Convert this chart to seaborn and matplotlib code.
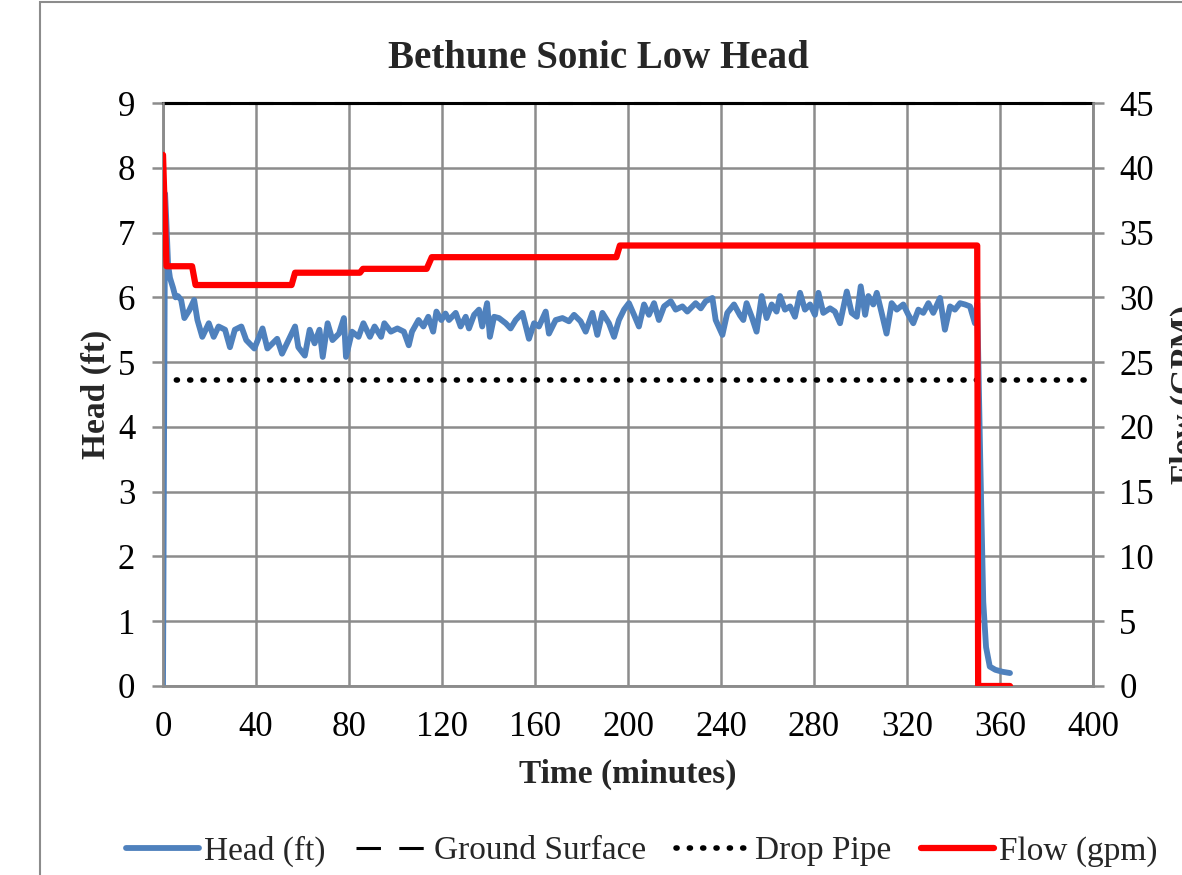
import seaborn as sns
import matplotlib.pyplot as plt
import matplotlib.patches as patches
import pandas as pd

# head readings (ft) vs time (minutes)
head_time = [0, 0.9, 1.4, 2.2, 3.0, 4.3, 5.4, 6.4, 7.8, 9.2, 11.3, 13.4, 14.8, 16.9, 19.7,
             21.8, 23.9, 26.7, 28.8, 30.9, 33.7, 35.8, 39.3, 42.8, 44.9, 49.1, 51.2, 54.0,
             56.8, 58.2, 61.0, 63.1, 65.2, 67.3, 68.7, 70.8, 72.9, 75.7, 77.8, 78.7, 81.3,
             84.1, 86.2, 89.0, 91.0, 93.8, 95.2, 98.0, 100.8, 103.6, 105.7, 107.1, 109.9,
             112.0, 114.1, 116.2, 117.6, 119.7, 121.5, 123.0, 125.9, 128.0, 130.2, 131.6,
             133.8, 135.9, 137.3, 139.4, 140.6, 142.4, 144.5, 147.4, 149.5, 151.7, 154.6,
             157.4, 159.6, 161.7, 164.6, 166.0, 168.9, 171.8, 174.6, 176.8, 179.6, 181.8,
             184.7, 186.8, 189.0, 191.8, 194.0, 196.1, 198.3, 200.4, 202.6, 204.7, 206.9,
             209.0, 211.2, 213.3, 215.5, 218.4, 220.5, 223.4, 225.5, 229.1, 231.3, 233.4,
             236.3, 237.7, 240.6, 242.7, 245.6, 248.2, 249.6, 251.0, 253.2, 255.3, 257.5,
             259.6, 261.8, 263.9, 265.4, 267.5, 269.7, 271.8, 274.0, 276.1, 278.3, 280.4,
             281.9, 284.0, 286.9, 289.0, 291.2, 294.1, 296.2, 298.4, 300.1, 302.0, 303.4,
             305.5, 307.0, 309.1, 311.2, 313.4, 315.6, 318.4, 320.6, 322.7, 324.9, 327.0,
             329.2, 331.3, 334.2, 336.3, 338.5, 340.6, 342.8, 344.9, 347.1, 349.2, 350.2,
             351.5, 352.8, 354.0, 355.6, 358.0, 361.0, 364.3]
head_ft = [0, 7.6, 7.2, 6.5, 6.3, 6.15, 6.0, 6.02, 5.96, 5.68, 5.8, 5.96, 5.65, 5.39, 5.6,
           5.39, 5.55, 5.5, 5.23, 5.5, 5.55, 5.34, 5.21, 5.52, 5.21, 5.36, 5.13, 5.34,
           5.55, 5.23, 5.1, 5.5, 5.29, 5.5, 5.08, 5.6, 5.34, 5.44, 5.68, 5.08, 5.47,
           5.39, 5.6, 5.39, 5.55, 5.39, 5.6, 5.47, 5.52, 5.47, 5.26, 5.47, 5.65,
           5.55, 5.7, 5.47, 5.78, 5.65, 5.75, 5.65, 5.76, 5.55, 5.7, 5.52,
           5.73, 5.81, 5.55, 5.91, 5.39, 5.7, 5.68, 5.6, 5.52, 5.65, 5.76,
           5.36, 5.6, 5.55, 5.78, 5.44, 5.65, 5.68, 5.63, 5.73, 5.63, 5.47,
           5.76, 5.42, 5.76, 5.6, 5.39, 5.65, 5.81, 5.91, 5.73, 5.55, 5.89,
           5.73, 5.91, 5.65, 5.86, 5.94, 5.81, 5.86, 5.78, 5.91, 5.83, 5.94,
           5.99, 5.65, 5.42, 5.76, 5.89, 5.72, 5.65, 5.91, 5.7, 5.47, 6.02,
           5.68, 5.89, 5.78, 6.02, 5.81, 5.86, 5.7, 6.07, 5.81, 5.89, 5.73,
           6.07, 5.76, 5.83, 5.78, 5.6, 6.09, 5.76, 5.7, 6.17, 5.73, 6.02,
           5.89, 6.07, 5.76, 5.44, 5.91, 5.81, 5.89, 5.73, 5.6, 5.81, 5.76,
           5.91, 5.76, 5.99, 5.5, 5.86, 5.81, 5.91, 5.89, 5.86, 5.6, 5.91,
           3.5, 1.3, 0.6, 0.3, 0.25, 0.22, 0.2]

# flow (gpm), stepped
flow_time = [0, 1.5, 12.5, 14.0, 55.3, 56.8, 84.7, 86.0, 113.4, 115.6, 195.0, 196.5,
             350.2, 350.6, 364.3]
flow_gpm = [41, 32.4, 32.4, 30.95, 30.95, 31.9, 31.9, 32.2, 32.2, 33.1, 33.1, 34.0,
            34.0, 0, 0]

ground_time = [0, 400]
ground_ft = [9, 9]
pipe_time = [0, 400]
pipe_ft = [4.72, 4.72]

sns.set_style("white")
plt.rcParams['font.family'] = ['Liberation Serif', 'DejaVu Serif']

fig = plt.figure(figsize=(11.82, 8.75), dpi=100)
ax = fig.add_axes([163 / 1182, 1 - 686 / 875, 930 / 1182, 583 / 875])
ax2 = ax.twinx()

grid_c = '#8c8c8c'
head_df = pd.DataFrame({'t': head_time, 'h': head_ft})
flow_df = pd.DataFrame({'t': flow_time, 'q': flow_gpm})

sns.lineplot(data=head_df, x='t', y='h', ax=ax, sort=False, color='#4F81BD', lw=4.2,
             label='Head (ft)', legend=False, zorder=4)
sns.lineplot(x=ground_time, y=ground_ft, ax=ax, color='black', lw=2.2,
             linestyle=(0, (8, 6)), label='Ground Surface', legend=False, zorder=5,
             clip_on=False)
sns.lineplot(x=pipe_time, y=pipe_ft, ax=ax, color='black', lw=4,
             linestyle=(0, (0.2, 2.2)), dash_capstyle='round',
             label='Drop Pipe', legend=False, zorder=3)
sns.lineplot(data=flow_df, x='t', y='q', ax=ax2, sort=False, color='#FF0000', lw=4.5,
             label='Flow (gpm)', legend=False, zorder=4)

ax.set_xlim(0, 400)
ax.set_ylim(0, 9)
ax2.set_ylim(0, 45)
ax.set_xticks(range(0, 401, 40))
ax.set_yticks(range(0, 10))
ax2.set_yticks(range(0, 46, 5))

ax.grid(True, color=grid_c, lw=1.8)
ax2.grid(False)
ax.set_axisbelow(True)
for a in (ax, ax2):
    for s in a.spines.values():
        s.set_color(grid_c)
        s.set_linewidth(1.8)
    a.tick_params(colors=grid_c, labelcolor='black', labelsize=25, length=8, width=1.8,
                  direction='out')
ax.spines['top'].set_color('black')
ax.spines['top'].set_linewidth(2.2)
ax2.spines['top'].set_visible(False)
ax.tick_params(axis='x', pad=10)
ax.tick_params(axis='y', pad=12)
ax2.tick_params(axis='y', pad=11)

ax.set_xlabel('Time (minutes)', fontsize=24, fontweight='bold')
ax.xaxis.set_label_coords(0.5, -(759 - 686) / 583)
ax.set_ylabel('Head (ft)', fontsize=24, fontweight='bold')
ax.yaxis.set_label_coords((112 - 163) / 930, 0.5)
ax2.set_ylabel('Flow (GPM)', fontsize=24, fontweight='bold')
ax2.yaxis.set_label_coords((1170 - 163) / 930, 0.5)

fig.text(598 / 1182, 1 - 58 / 875, 'Bethune Sonic Low Head', ha='center', va='center',
         fontsize=28, fontweight='bold')

h1, l1 = ax.get_legend_handles_labels()
h2, l2 = ax2.get_legend_handles_labels()
fig.legend(h1 + h2, l1 + l2, loc='center', bbox_to_anchor=(642 / 1182, 1 - 851 / 875),
           ncol=4, frameon=False, fontsize=24, handlelength=2.2, columnspacing=0.9,
           handletextpad=0.15)

fig.patches.append(patches.Rectangle((40 / 1182, -0.05), 1.2, 1.05 - 1.5 / 875,
                                     transform=fig.transFigure, fill=False,
                                     edgecolor='#8c8c8c', lw=1.5))

fig.savefig('out.png', dpi=100)
